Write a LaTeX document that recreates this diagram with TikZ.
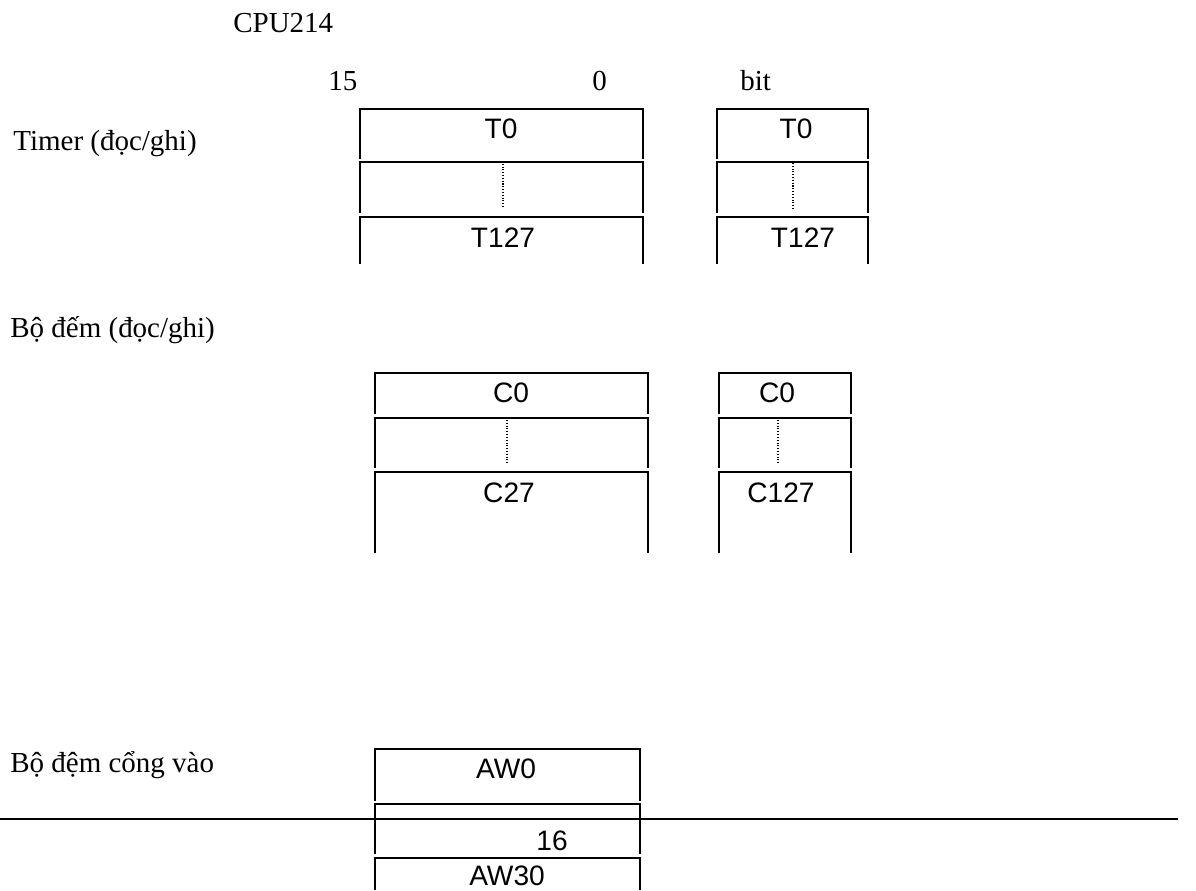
\documentclass[tikz,border=0pt]{standalone}
\usepackage{fontspec}
\setmainfont{Liberation Serif}
\setsansfont{Liberation Sans}
\begin{document}
\begin{tikzpicture}[
    x=0.02cm, y=-0.02cm,
    cell/.style={line width=1.1pt},
    dots/.style={densely dotted, line width=0.6pt},
    word/.style={font=\sffamily\fontsize{16}{19}\selectfont, inner sep=0pt, anchor=base},
    label/.style={font=\fontsize{16.5}{20}\selectfont, inner sep=0pt, anchor=base west}
]
\useasboundingbox (0,0) rectangle (1196,890);
% Headings
\node[label] (cpu) at (233,32) {CPU214};
\node[label] (bhi) at (328,90) {15};
\node[label] (blo) at (592,90) {0};
\node[label] (bit) at (740,90) {bit};
\node[label] (timer) at (13,150) {Timer (đọc/ghi)};
\node[label] (counter) at (10,337) {Bộ đếm (đọc/ghi)};
\node[label] (input) at (10,772) {Bộ đệm cổng vào};

% Timer cells (left, right, top, bottom)
\foreach \xa/\xb/\ya/\yb in {360/643/109/159, 360/643/162/213, 360/643/217/264,
                             717/868/109/159, 717/868/162/213, 717/868/217/264}
    \draw[cell] (\xa,\yb) -- (\xa,\ya) -- (\xb,\ya) -- (\xb,\yb);
\node[word] (t0a) at (501,138) {T0};
\node[word] (t127a) at (503,247) {T127};
\node[word] (t0b) at (796,138) {T0};
\node[word] (t127b) at (803,247) {T127};
\draw[dots] (503,161) -- (503,207);
\draw[dots] (793,163) -- (793,210);

% Counter cells
\foreach \xa/\xb/\ya/\yb in {375/648/373/414, 375/648/418/468, 375/648/472/553,
                             719/851/373/414, 719/851/418/468, 719/851/472/553}
    \draw[cell] (\xa,\yb) -- (\xa,\ya) -- (\xb,\ya) -- (\xb,\yb);
\node[word] (c0a) at (511,402) {C0};
\node[word] (c27) at (509,502) {C27};
\node[word] (c0b) at (777,402) {C0};
\node[word] (c127) at (781,502) {C127};
\draw[dots] (507,420) -- (507,463);
\draw[dots] (778,420) -- (778,463);

% Input buffer cells
\foreach \ya/\yb in {749/801, 804/854, 858/890}
    \draw[cell] (375,\yb) -- (375,\ya) -- (640,\ya) -- (640,\yb);
\node[word] (aw0) at (506,778) {AW0};
\node[word] (n16) at (552,850) {16};
\node[word] (aw30) at (507,885) {AW30};
\draw[cell] (0,819) -- (1178,819);
\end{tikzpicture}
\end{document}
